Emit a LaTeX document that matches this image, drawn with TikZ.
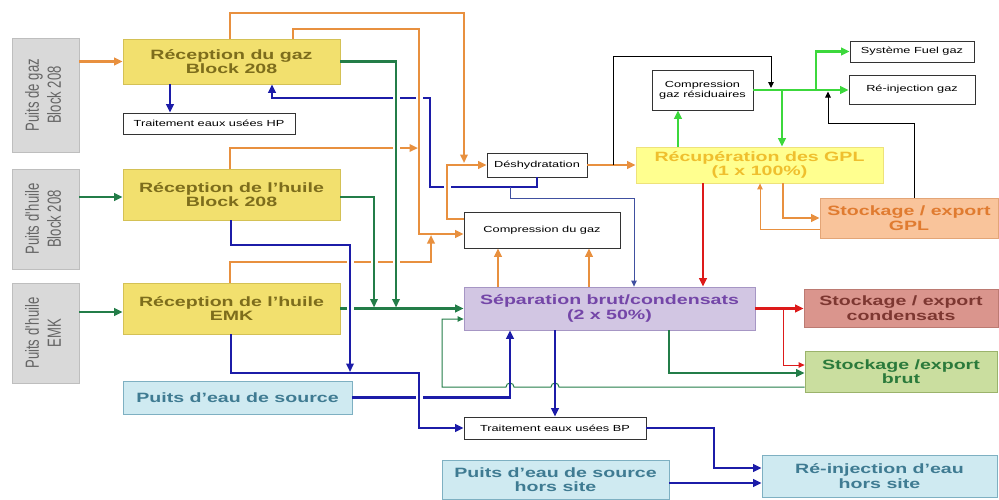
\documentclass[tikz,border=0pt]{standalone}
\usepackage{fontspec}
\setmainfont{Liberation Sans}
\newfontfamily\widesans[FakeStretch=1.45]{Liberation Sans}
\newfontfamily\narrowsans[FakeStretch=0.69]{Liberation Sans}
\usetikzlibrary{arrows.meta}

% box colours
\definecolor{yelFill}{HTML}{F2E06E}\definecolor{yelLine}{HTML}{D4C155}\definecolor{yelText}{HTML}{7D6D1C}
\definecolor{recFill}{HTML}{FFFF8F}\definecolor{recLine}{HTML}{EEE27A}\definecolor{recText}{HTML}{EFBF2E}
\definecolor{sepFill}{HTML}{D2C6E3}\definecolor{sepLine}{HTML}{A696C4}\definecolor{sepText}{HTML}{7446A8}
\definecolor{condFill}{HTML}{DA958D}\definecolor{condLine}{HTML}{BC7A72}\definecolor{condText}{HTML}{7D3731}
\definecolor{brutFill}{HTML}{CADE9F}\definecolor{brutLine}{HTML}{9BB36B}\definecolor{brutText}{HTML}{2B7A3B}
\definecolor{gplFill}{HTML}{F9C49B}\definecolor{gplLine}{HTML}{E3A577}\definecolor{gplText}{HTML}{E07B30}
\definecolor{eauFill}{HTML}{CFEAF1}\definecolor{eauLine}{HTML}{7EB0C2}\definecolor{eauText}{HTML}{3F7B92}
\definecolor{wellFill}{HTML}{D9D9D9}\definecolor{wellLine}{HTML}{BEBEBE}\definecolor{wellText}{HTML}{666666}
% stream colours
\definecolor{cOrange}{HTML}{E8903F}
\definecolor{cGreen}{HTML}{237D48}
\definecolor{cLime}{HTML}{3CD83C}
\definecolor{cNavy}{HTML}{1C1CA8}
\definecolor{cThinNavy}{HTML}{4050A0}
\definecolor{cRed}{HTML}{DD1A1A}

\tikzset{
  base/.style={inner sep=0pt, align=center, line width=0.8pt},
  bigtxt/.style={font=\widesans\bfseries\fontsize{13.5}{14.5}\selectfont},
  smalltxt/.style={font=\widesans\fontsize{8.8}{10.5}\selectfont},
  yelbox/.style={base,bigtxt,fill=yelFill,draw=yelLine,text=yelText},
  recbox/.style={base,bigtxt,fill=recFill,draw=recLine,text=recText},
  sepbox/.style={base,bigtxt,fill=sepFill,draw=sepLine,text=sepText},
  condbox/.style={base,bigtxt,fill=condFill,draw=condLine,text=condText},
  brutbox/.style={base,bigtxt,fill=brutFill,draw=brutLine,text=brutText},
  gplbox/.style={base,bigtxt,fill=gplFill,draw=gplLine,text=gplText},
  eaubox/.style={base,bigtxt,fill=eauFill,draw=eauLine,text=eauText},
  wellbox/.style={base,fill=wellFill,draw=wellLine,text=wellText},
  whitebox/.style={base,smalltxt,fill=white,draw=black!80},
  wire/.style={line width=2.2pt},
  thinwire/.style={line width=1pt},
  tip/.style={-{Triangle[length=8.5pt,width=7.5pt]}},
  thintip/.style={-{Triangle[length=6pt,width=5.5pt]}},
}

% white break in a horizontal stream where a vertical one passes over it
\newcommand{\xgap}[4]{%
  \fill[white] (#1-3.5,#2-3.5) rectangle (#1+3.5,#2+3.5);
  \draw[#3,line width=#4] (#1,#2-4.5) -- (#1,#2+4.5);}

\newcommand{\welltext}[2]{\rotatebox{90}{\narrowsans\fontsize{19}{22}\selectfont
  \begin{tabular}{@{}c@{}}#1\\#2\end{tabular}}}

\begin{document}
\begin{tikzpicture}[x=1pt,y=-1pt]
\useasboundingbox (0,0) rectangle (999,499);

% ---------- wells
\node[wellbox,minimum width=67pt,minimum height=114pt] (pgaz) at (45.5,95) {\welltext{Puits de gaz}{Block 208}};
\node[wellbox,minimum width=67pt,minimum height=100pt] (poil1) at (45.5,219) {\welltext{Puits d\textquotesingle huile}{Block 208}};
\node[wellbox,minimum width=67pt,minimum height=100pt] (poilE) at (45.5,333) {\welltext{Puits d\textquotesingle huile}{EMK}};

% ---------- reception units
\node[yelbox,minimum width=217pt,minimum height=45pt] (rgaz) at (231.5,61.5) {Réception du gaz\\Block 208};
\node[yelbox,minimum width=217pt,minimum height=51pt] (roil1) at (231.5,194.5) {Réception de l’huile\\Block 208};
\node[yelbox,minimum width=217pt,minimum height=51pt] (roilE) at (231.5,308.5) {Réception de l’huile\\EMK};
\node[whitebox,minimum width=172pt,minimum height=21pt] (tHP) at (209,123.5) {Traitement eaux usées HP};
\node[eaubox,minimum width=229pt,minimum height=33pt] (puitsE) at (237.5,397.5) {Puits d’eau de source};

% ---------- central processing
\node[whitebox,minimum width=100pt,minimum height=24pt] (desh) at (537,165) {Déshydratation};
\node[whitebox,minimum width=156pt,minimum height=36pt] (compg) at (542,230) {Compression du gaz};
\node[sepbox,minimum width=291pt,minimum height=43pt] (sep) at (609.5,308.5) {Séparation brut/condensats\\(2 x 50\%)};
\node[whitebox,minimum width=182pt,minimum height=22pt] (tBP) at (555,428) {Traitement eaux usées BP};
\node[eaubox,minimum width=227pt,minimum height=39pt] (puitsHS) at (555.5,479.5) {Puits d’eau de source\\hors site};
\node[eaubox,minimum width=235pt,minimum height=42pt] (reinjE) at (879.5,476) {Ré-injection d’eau\\hors site};

% ---------- gas / GPL train
\node[recbox,minimum width=247pt,minimum height=36pt] (recup) at (759.5,165) {Récupération des GPL\\(1 x 100\%)};
\node[whitebox,minimum width=101pt,minimum height=40pt] (compres) at (702.5,90) {Compression\\gaz résiduaires};
\node[whitebox,minimum width=124pt,minimum height=21pt] (fuel) at (912,51.5) {Système Fuel gaz};
\node[whitebox,minimum width=126pt,minimum height=29pt] (reinjG) at (912,89.5) {Ré-injection gaz};

% ---------- storage / export
\node[gplbox,minimum width=178pt,minimum height=40pt] (stGPL) at (909,218) {Stockage / export\\GPL};
\node[condbox,minimum width=194pt,minimum height=38pt] (stCond) at (901,308) {Stockage / export\\condensats};
\node[brutbox,minimum width=192pt,minimum height=41pt] (stBrut) at (901,371.5) {Stockage /export\\brut};

% ---------- gas streams (orange)
\draw[wire,cOrange,tip] (pgaz.east |- rgaz.west) -- (rgaz.west);
\draw[wire,cOrange,tip] (230,0 |- rgaz.north) -- (230,13) -- (464,13) -- (464,163);
\draw[wire,cOrange,tip] (293,0 |- rgaz.north) -- (293,29) -- (419,29) -- (419,234) -- (compg.west |- 0,234);
\draw[wire,cOrange,tip] (230,0 |- roil1.north) -- (230,148) -- (418,148);
\draw[wire,cOrange,tip] (230,0 |- roilE.north) -- (230,262) -- (431,262) -- (431,235);
\draw[wire,cOrange,tip] (compg.west |- 0,219) -- (447,219) -- (447,0 |- desh.west) -- (desh.west);
\draw[wire,cOrange,tip] (desh.east) -- (recup.west);
\draw[wire,cOrange,tip] (498,0 |- sep.north) -- (498,0 |- compg.south);
\draw[wire,cOrange,tip] (589,0 |- sep.north) -- (589,0 |- compg.south);
\draw[wire,cOrange,tip] (783,0 |- recup.south) -- (783,0 |- stGPL.west) -- (stGPL.west);
\draw[thinwire,cOrange,thintip] (stGPL.west |- 0,229) -- (760,229) -- (760,0 |- recup.south);

% ---------- oil streams (dark green)
\draw[wire,cGreen,tip] (poil1.east |- 0,197) -- (roil1.west |- 0,197);
\draw[wire,cGreen,tip] (poilE.east |- 0,312) -- (roilE.west |- 0,312);
\draw[wire,cGreen,tip] (rgaz.east) -- (396,0 |- rgaz.east) -- (396,307.5);
\draw[wire,cGreen,tip] (roil1.east |- 0,197) -- (374,197) -- (374,307.5);
\draw[wire,cGreen,tip] (roilE.east) -- (sep.west);
\draw[wire,cGreen,tip] (669,0 |- sep.south) -- (669,373) -- (stBrut.west |- 0,373);
\draw[thinwire,cGreen,thintip] (stBrut.west |- 0,387) -- (559,387)
  arc[start angle=0,end angle=180,radius=4pt] -- (514,387)
  arc[start angle=0,end angle=180,radius=4pt] -- (442,387) -- (442,319) -- (sep.west |- 0,319);

% ---------- residual gas (light green)
\draw[wire,cLime,tip] (compres.east) -- (reinjG.west |- compres.east);
\draw[wire,cLime,tip] (816,0 |- compres.east) -- (816,0 |- fuel.west) -- (fuel.west);
\draw[wire,cLime,tip] (782,0 |- compres.east) -- (782,0 |- recup.north);
\draw[wire,cLime,tip] (678,0 |- recup.north) -- (678,0 |- compres.south);

% ---------- bypass lines (black)
\draw[thinwire,black,thintip] (613,0 |- desh.east) -- (613,56) -- (771,56) -- (771,88);
\draw[thinwire,black,thintip] (914,0 |- stGPL.north) -- (914,123) -- (828,123) -- (828,91.5);

% ---------- condensate streams (red)
\draw[wire,cRed,tip] (703,0 |- recup.south) -- (703,0 |- sep.north);
\draw[wire,cRed,tip] (sep.east) -- (stCond.west |- sep.east);
\draw[thinwire,cRed,thintip] (783,0 |- sep.east) -- (783,365) -- (stBrut.west |- 0,365);

% ---------- water streams (blue)
\draw[wire,cNavy,tip] (170,0 |- rgaz.south) -- (170,0 |- tHP.north);
\draw[wire,cNavy,tip] (537,0 |- desh.south) -- (537,187) -- (430,187) -- (430,98) -- (272,98) -- (272,0 |- rgaz.south);
\draw[thinwire,cThinNavy,thintip] (510,187) -- (510,198) -- (634,198) -- (634,0 |- sep.north);
\draw[wire,cNavy,tip] (231,0 |- roil1.south) -- (231,245) -- (350,245) -- (350,372);
\draw[wire,cNavy,tip] (231,0 |- roilE.south) -- (231,373) -- (419,373) -- (419,0 |- tBP.west) -- (tBP.west);
\draw[wire,cNavy,tip] (puitsE.east) -- (510,0 |- puitsE.east) -- (510,0 |- sep.south);
\draw[wire,cNavy,tip] (555,0 |- sep.south) -- (555,0 |- tBP.north);
\draw[wire,cNavy,tip] (tBP.east) -- (714,0 |- tBP.east) -- (714,468) -- (reinjE.west |- 0,468);
\draw[wire,cNavy,tip] (puitsHS.east |- 0,483) -- (reinjE.west |- 0,483);

% ---------- line crossings
\xgap{396}{98}{cGreen}{2.2pt}
\xgap{419}{98}{cOrange}{2.2pt}
\xgap{396}{148}{cGreen}{2.2pt}
\xgap{447}{187}{cOrange}{2.2pt}
\xgap{350}{262}{cNavy}{2.2pt}
\xgap{374}{262}{cGreen}{2.2pt}
\xgap{396}{262}{cGreen}{2.2pt}
\xgap{350}{308.5}{cNavy}{2.2pt}
\xgap{419}{397.5}{cNavy}{2.2pt}
\end{tikzpicture}
\end{document}
